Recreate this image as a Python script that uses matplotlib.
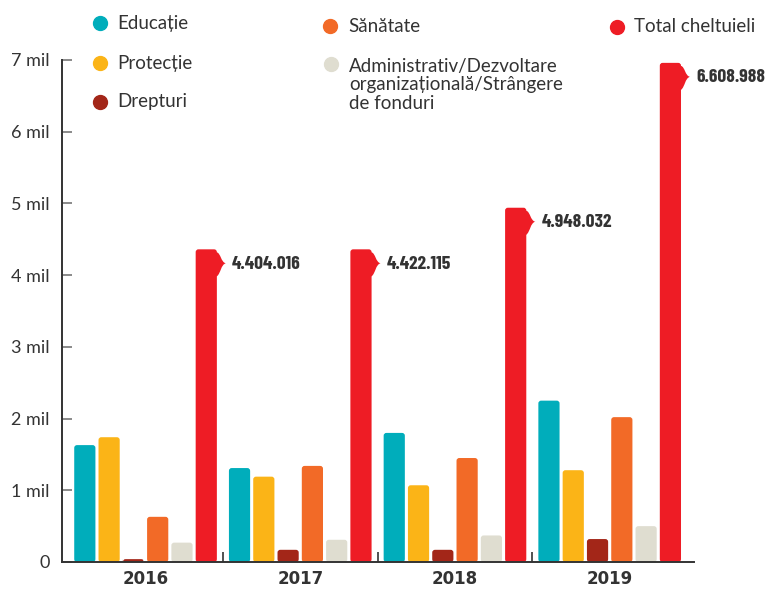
import matplotlib
matplotlib.use("Agg")
import matplotlib.pyplot as plt
import matplotlib.transforms as mtransforms
from matplotlib.patches import FancyBboxPatch, PathPatch
from matplotlib.path import Path
from matplotlib.lines import Line2D

years = ["2016", "2017", "2018", "2019"]
educatie = [1.63, 1.31, 1.80, 2.25]
protectie = [1.74, 1.19, 1.07, 1.28]
drepturi = [0.04, 0.17, 0.17, 0.32]
sanatate = [0.63, 1.34, 1.45, 2.02]
administrativ = [0.27, 0.31, 0.37, 0.50]
total = [4.36, 4.36, 4.94, 6.96]
total_labels = ["4.404.016", "4.422.115", "4.948.032", "6.608.988"]

series = [
    ("Educație", educatie, "#00adbb"),
    ("Protecție", protectie, "#fbb417"),
    ("Drepturi", drepturi, "#a32618"),
    ("Sănătate", sanatate, "#f26a27"),
    ("Administrativ/Dezvoltare\norganizațională/Strângere\nde fonduri", administrativ, "#dfddd0"),
    ("Total cheltuieli", total, "#ee1c25"),
]

txt = "#333333"
plt.rcParams["font.family"] = ["Lato", "DejaVu Sans"]

fig = plt.figure(figsize=(7.7, 5.89), dpi=100)
ax = fig.add_axes([62 / 770, 27 / 589, 632 / 770, 502 / 589])

step = 0.157
width = 0.137
x = range(len(years))
asp = (1 / 71.7) / (1 / 154)

tot_rects = []
for k, (name, vals, col) in enumerate(series):
    pos = [i + (k - 2.5) * step for i in x]
    bars = ax.bar(pos, vals, width, color=col)
    for r in bars:
        bx, bw, bh = r.get_x(), r.get_width(), r.get_height()
        r.remove()
        p = FancyBboxPatch((bx, 0), bw, bh,
                           boxstyle="round,pad=0,rounding_size=0.018",
                           mutation_aspect=asp, fc=col, ec="none", zorder=2)
        ax.add_patch(p)
        if k == 5:
            tot_rects.append((bx + bw, bh))

# callout bump and labels for totals
px = [(0, -3), (4, -4), (4, -13), (9, -14), (4, -15), (4, -24), (0, -27), (-2, -27), (-2, -3), (0, -3)]
codes = [Path.MOVETO, Path.CURVE4, Path.CURVE4, Path.CURVE4, Path.CURVE4, Path.CURVE4, Path.CURVE4,
         Path.LINETO, Path.LINETO, Path.CLOSEPOLY]
bump = Path(px, codes)
for (xr, yt), lab in zip(tot_rects, total_labels):
    tr = mtransforms.Affine2D().scale(fig.dpi / 100) + mtransforms.ScaledTranslation(xr, yt, ax.transData)
    ax.add_patch(PathPatch(bump, fc="#ee1c25", ec="none", transform=tr, clip_on=False, zorder=2))
    ax.annotate(lab, (xr, yt), xytext=(15, -15), textcoords="offset pixels",
                va="center", ha="left", fontsize=14, fontweight="bold", color=txt,
                family=["Barlow Condensed", "Oswald", "DejaVu Sans"])

ax.set_xlim(-0.54, 3.545)
ax.set_ylim(0, 7)
for s in ["top", "right"]:
    ax.spines[s].set_visible(False)
for s in ["left", "bottom"]:
    ax.spines[s].set_color(txt)
    ax.spines[s].set_linewidth(1.4)

ax.set_yticks(range(8))
ax.set_yticklabels(["0"] + [f"{v} mil" for v in range(1, 8)])
ax.tick_params(axis="y", direction="in", length=7, width=1.2, color="#777777",
               labelsize=13, labelcolor=txt, pad=9)
ax.set_xticks(list(x))
ax.set_xticklabels(years, fontweight="bold", fontsize=12, family="DejaVu Sans")
ax.tick_params(axis="x", which="major", length=0, pad=6, labelcolor=txt)
ax.set_xticks([0.5, 1.5, 2.5], minor=True)
ax.tick_params(axis="x", which="minor", direction="in", length=7, width=1.2, color=txt)

# legend
leg_pos = [(100, 23, 117), (100, 63, 117), (100, 102, 117),
           (330, 26, 348), (331, 64, 349), (617, 27, 634)]
for (name, vals, col), (mx, my, tx) in zip(series, leg_pos):
    fig.add_artist(Line2D([mx / 770], [1 - my / 589], marker="o", markersize=10,
                          color=col, lw=0, transform=fig.transFigure))
    if "\n" in name:
        fig.text(tx / 770, 1 - (my - 6) / 589, name, va="top", ha="left",
                 fontsize=13.5, color=txt, linespacing=1.1)
    else:
        fig.text(tx / 770, 1 - my / 589, name, va="center", ha="left",
                 fontsize=13.5, color=txt)

fig.savefig("out.png", dpi=100)
